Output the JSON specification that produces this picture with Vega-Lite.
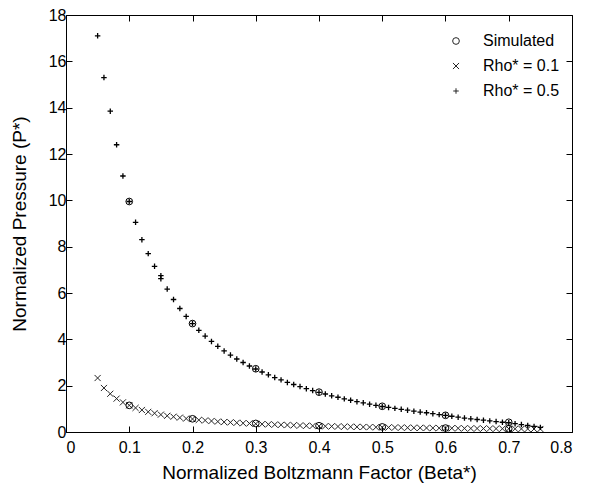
{
  "$schema": "https://vega.github.io/schema/vega-lite/v6.json",
  "autosize": {"type": "none"},
  "padding": {"left": 66, "top": 15, "right": 21, "bottom": 58},
  "width": 506,
  "height": 417,
  "background": "white",
  "config": {
    "view": {"stroke": "black", "strokeWidth": 1},
    "font": "Liberation Sans",
    "axis": {
      "domainColor": "black",
      "tickColor": "black",
      "tickSize": -6,
      "grid": false,
      "labelFont": "Liberation Sans",
      "labelFontSize": 16,
      "labelColor": "black",
      "titleFont": "Liberation Sans",
      "titleFontSize": 19,
      "titleFontWeight": "normal",
      "titleColor": "black",
      "labelPadding": 6
    },
    "legend": {
      "labelFont": "Liberation Sans",
      "labelFontSize": 16,
      "labelColor": "black"
    }
  },
  "datasets": {
    "sim": [
      {"b": 0.1, "p": 9.95}, {"b": 0.2, "p": 4.68}, {"b": 0.3, "p": 2.73}, {"b": 0.4, "p": 1.72},
      {"b": 0.5, "p": 1.11}, {"b": 0.6, "p": 0.72}, {"b": 0.7, "p": 0.42},
      {"b": 0.1, "p": 1.15}, {"b": 0.2, "p": 0.57}, {"b": 0.3, "p": 0.37}, {"b": 0.4, "p": 0.27},
      {"b": 0.5, "p": 0.22}, {"b": 0.6, "p": 0.17}, {"b": 0.7, "p": 0.14}
    ],
    "r01": [
      {"b": 0.05, "p": 2.33}, {"b": 0.06, "p": 1.9}, {"b": 0.07, "p": 1.65}, {"b": 0.08, "p": 1.44},
      {"b": 0.09, "p": 1.28}, {"b": 0.1, "p": 1.15}, {"b": 0.11, "p": 1.04}, {"b": 0.12, "p": 0.95},
      {"b": 0.13, "p": 0.87}, {"b": 0.14, "p": 0.81}, {"b": 0.15, "p": 0.75}, {"b": 0.16, "p": 0.7},
      {"b": 0.17, "p": 0.66}, {"b": 0.18, "p": 0.62}, {"b": 0.19, "p": 0.58}, {"b": 0.2, "p": 0.56},
      {"b": 0.21, "p": 0.52}, {"b": 0.22, "p": 0.5}, {"b": 0.23, "p": 0.475}, {"b": 0.24, "p": 0.45},
      {"b": 0.25, "p": 0.43}, {"b": 0.26, "p": 0.415}, {"b": 0.27, "p": 0.4}, {"b": 0.28, "p": 0.38},
      {"b": 0.29, "p": 0.37}, {"b": 0.3, "p": 0.355}, {"b": 0.31, "p": 0.34}, {"b": 0.32, "p": 0.33},
      {"b": 0.33, "p": 0.32}, {"b": 0.34, "p": 0.31}, {"b": 0.35, "p": 0.3}, {"b": 0.36, "p": 0.29},
      {"b": 0.37, "p": 0.28}, {"b": 0.38, "p": 0.27}, {"b": 0.39, "p": 0.265}, {"b": 0.4, "p": 0.255},
      {"b": 0.41, "p": 0.25}, {"b": 0.42, "p": 0.243}, {"b": 0.43, "p": 0.237}, {"b": 0.44, "p": 0.232},
      {"b": 0.45, "p": 0.226}, {"b": 0.46, "p": 0.221}, {"b": 0.47, "p": 0.216}, {"b": 0.48, "p": 0.211},
      {"b": 0.49, "p": 0.206}, {"b": 0.5, "p": 0.202}, {"b": 0.51, "p": 0.198}, {"b": 0.52, "p": 0.194},
      {"b": 0.53, "p": 0.19}, {"b": 0.54, "p": 0.186}, {"b": 0.55, "p": 0.182}, {"b": 0.56, "p": 0.179},
      {"b": 0.57, "p": 0.175}, {"b": 0.58, "p": 0.172}, {"b": 0.59, "p": 0.169}, {"b": 0.6, "p": 0.166},
      {"b": 0.61, "p": 0.163}, {"b": 0.62, "p": 0.16}, {"b": 0.63, "p": 0.157}, {"b": 0.64, "p": 0.154},
      {"b": 0.65, "p": 0.152}, {"b": 0.66, "p": 0.149}, {"b": 0.67, "p": 0.147}, {"b": 0.68, "p": 0.144},
      {"b": 0.69, "p": 0.142}, {"b": 0.7, "p": 0.14}, {"b": 0.71, "p": 0.138}, {"b": 0.72, "p": 0.135},
      {"b": 0.73, "p": 0.133}, {"b": 0.74, "p": 0.131}, {"b": 0.75, "p": 0.129}
    ],
    "r05": [
      {"b": 0.05, "p": 17.1}, {"b": 0.06, "p": 15.3}, {"b": 0.07, "p": 13.85}, {"b": 0.08, "p": 12.4},
      {"b": 0.09, "p": 11.05}, {"b": 0.1, "p": 9.95}, {"b": 0.11, "p": 9.05}, {"b": 0.12, "p": 8.3},
      {"b": 0.13, "p": 7.7}, {"b": 0.14, "p": 7.15}, {"b": 0.15, "p": 6.75}, {"b": 0.15, "p": 6.62},
      {"b": 0.16, "p": 6.17}, {"b": 0.17, "p": 5.72}, {"b": 0.18, "p": 5.33}, {"b": 0.19, "p": 4.99},
      {"b": 0.2, "p": 4.68}, {"b": 0.21, "p": 4.39}, {"b": 0.22, "p": 4.14}, {"b": 0.23, "p": 3.91},
      {"b": 0.24, "p": 3.7}, {"b": 0.25, "p": 3.5}, {"b": 0.26, "p": 3.32}, {"b": 0.27, "p": 3.15},
      {"b": 0.28, "p": 3.0}, {"b": 0.29, "p": 2.85}, {"b": 0.3, "p": 2.72}, {"b": 0.31, "p": 2.59},
      {"b": 0.32, "p": 2.47}, {"b": 0.33, "p": 2.35}, {"b": 0.34, "p": 2.25}, {"b": 0.35, "p": 2.14},
      {"b": 0.36, "p": 2.05}, {"b": 0.37, "p": 1.96}, {"b": 0.38, "p": 1.87}, {"b": 0.39, "p": 1.79},
      {"b": 0.4, "p": 1.71}, {"b": 0.41, "p": 1.64}, {"b": 0.42, "p": 1.56}, {"b": 0.43, "p": 1.5},
      {"b": 0.44, "p": 1.43}, {"b": 0.45, "p": 1.37}, {"b": 0.46, "p": 1.31}, {"b": 0.47, "p": 1.26},
      {"b": 0.48, "p": 1.2}, {"b": 0.49, "p": 1.15}, {"b": 0.5, "p": 1.1}, {"b": 0.51, "p": 1.06},
      {"b": 0.52, "p": 1.02}, {"b": 0.53, "p": 0.98}, {"b": 0.54, "p": 0.94}, {"b": 0.55, "p": 0.9},
      {"b": 0.56, "p": 0.86}, {"b": 0.57, "p": 0.83}, {"b": 0.58, "p": 0.79}, {"b": 0.59, "p": 0.75},
      {"b": 0.6, "p": 0.72}, {"b": 0.61, "p": 0.68}, {"b": 0.62, "p": 0.64}, {"b": 0.63, "p": 0.6},
      {"b": 0.64, "p": 0.57}, {"b": 0.65, "p": 0.54}, {"b": 0.66, "p": 0.51}, {"b": 0.67, "p": 0.48},
      {"b": 0.68, "p": 0.45}, {"b": 0.69, "p": 0.42}, {"b": 0.7, "p": 0.4}, {"b": 0.71, "p": 0.36},
      {"b": 0.72, "p": 0.32}, {"b": 0.73, "p": 0.28}, {"b": 0.74, "p": 0.24}, {"b": 0.75, "p": 0.2}
    ]
  },
  "resolve": {"axis": {"x": "independent", "y": "independent"}},
  "layer": [
    {
      "data": {"name": "r01"},
      "mark": {"type": "point", "filled": false, "color": "black", "strokeWidth": 1, "opacity": 0.85},
      "encoding": {
        "x": {"field": "b", "type": "quantitative", "scale": {"domain": [0, 0.8], "nice": false, "zero": false},
          "axis": {"title": "Normalized Boltzmann Factor (Beta*)", "values": [0, 0.1, 0.2, 0.3, 0.4, 0.5, 0.6, 0.7, 0.8],
            "labelExpr": "datum.value == 0 ? '0' : format(datum.value, '.1f')", "labelPadding": 13, "titlePadding": 8}},
        "y": {"field": "p", "type": "quantitative", "scale": {"domain": [0, 18], "nice": false, "zero": false},
          "axis": {"title": "Normalized Pressure (P*)", "values": [0, 2, 4, 6, 8, 10, 12, 14, 16, 18], "labelPadding": 6, "titlePadding": 19}},
        "shape": {"datum": "Rho* = 0.1", "type": "nominal",
          "scale": {"domain": ["Simulated", "Rho* = 0.1", "Rho* = 0.5"], "range": ["circle", "M-1,-1L1,1M-1,1L1,-1", "M-1,0H1M0,-1V1"]},
          "legend": {"title": null, "orient": "none", "legendX": 382, "legendY": 18, "labelOffset": 19, "rowPadding": 9, "symbolStrokeColor": "black", "symbolStrokeWidth": 1}},
        "size": {"datum": "Rho* = 0.1", "type": "nominal",
          "scale": {"domain": ["Simulated", "Rho* = 0.1", "Rho* = 0.5"], "range": [45, 30, 70]},
          "legend": {"title": null, "orient": "none", "legendX": 382, "legendY": 18, "labelOffset": 19, "rowPadding": 9, "symbolStrokeColor": "black", "symbolStrokeWidth": 1}}
      }
    },
    {
      "data": {"name": "r05"},
      "mark": {"type": "point", "filled": false, "color": "black", "strokeWidth": 1.3, "opacity": 1},
      "encoding": {
        "x": {"field": "b", "type": "quantitative", "axis": {"orient": "top", "labels": false, "title": null, "domain": false, "tickSize": -6, "values": [0, 0.1, 0.2, 0.3, 0.4, 0.5, 0.6, 0.7, 0.8]}},
        "y": {"field": "p", "type": "quantitative", "axis": {"orient": "right", "labels": false, "title": null, "domain": false, "tickSize": -6, "values": [0, 2, 4, 6, 8, 10, 12, 14, 16, 18]}},
        "shape": {"datum": "Rho* = 0.5", "type": "nominal"},
        "size": {"datum": "Rho* = 0.5", "type": "nominal"}
      }
    },
    {
      "data": {"name": "sim"},
      "mark": {"type": "point", "filled": false, "color": "black", "strokeWidth": 1, "opacity": 1},
      "encoding": {
        "x": {"field": "b", "type": "quantitative", "axis": null},
        "y": {"field": "p", "type": "quantitative", "axis": null},
        "shape": {"datum": "Simulated", "type": "nominal"},
        "size": {"datum": "Simulated", "type": "nominal"}
      }
    }
  ]
}
